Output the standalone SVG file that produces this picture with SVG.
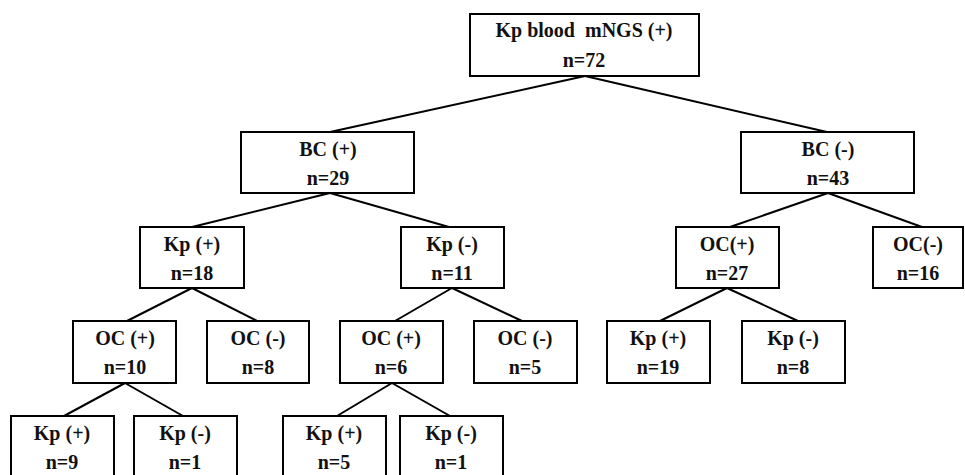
<svg xmlns="http://www.w3.org/2000/svg" width="965" height="475" viewBox="0 0 965 475">
<style>
rect{fill:#fff;stroke:#000;stroke-width:2}
line{stroke:#000;stroke-width:2}
text{font-family:'Liberation Serif','Times New Roman',serif;font-weight:bold;font-size:20px;text-anchor:middle;fill:#111;white-space:pre}
</style>
<rect width="965" height="475" style="fill:#fff;stroke:none"/>
<g id="connectors">
<line x1="585" y1="76" x2="330" y2="132"/>
<line x1="585" y1="76" x2="827" y2="132"/>
<line x1="330" y1="193" x2="192" y2="227"/>
<line x1="330" y1="193" x2="449" y2="227"/>
<line x1="828" y1="193" x2="730" y2="227"/>
<line x1="828" y1="193" x2="922" y2="227"/>
<line x1="192" y1="288" x2="127" y2="321"/>
<line x1="192" y1="288" x2="257" y2="321"/>
<line x1="452" y1="288" x2="395" y2="321"/>
<line x1="452" y1="288" x2="522" y2="321"/>
<line x1="727" y1="288" x2="660" y2="321"/>
<line x1="727" y1="288" x2="798" y2="321"/>
<line x1="125" y1="383" x2="64" y2="416"/>
<line x1="125" y1="383" x2="183" y2="416"/>
<line x1="392" y1="383" x2="337" y2="416"/>
<line x1="392" y1="383" x2="450" y2="416"/>
</g>
<g id="root"><rect x="470" y="14" width="229" height="62"/><text x="584" y="37">Kp blood  mNGS (+)</text><text x="584" y="67">n=72</text></g>
<g id="bc_pos"><rect x="241" y="132" width="173" height="61"/><text x="328" y="156">BC (+)</text><text x="328" y="185">n=29</text></g>
<g id="bc_neg"><rect x="741" y="132" width="173" height="61"/><text x="828" y="156">BC (-)</text><text x="828" y="185">n=43</text></g>
<g id="kp_pos_1"><rect x="140" y="227" width="104" height="61"/><text x="192" y="251">Kp (+)</text><text x="192" y="280">n=18</text></g>
<g id="kp_neg_1"><rect x="401" y="227" width="103" height="61"/><text x="452" y="251">Kp (-)</text><text x="452" y="280">n=11</text></g>
<g id="oc_pos_r"><rect x="676" y="227" width="103" height="61"/><text x="727" y="251">OC(+)</text><text x="727" y="280">n=27</text></g>
<g id="oc_neg_r"><rect x="873" y="227" width="90" height="61"/><text x="918" y="251">OC(-)</text><text x="918" y="280">n=16</text></g>
<g id="oc_pos_a"><rect x="73" y="321" width="103" height="62"/><text x="125" y="345">OC (+)</text><text x="125" y="374">n=10</text></g>
<g id="oc_neg_a"><rect x="207" y="321" width="102" height="62"/><text x="258" y="345">OC (-)</text><text x="258" y="374">n=8</text></g>
<g id="oc_pos_b"><rect x="340" y="321" width="103" height="62"/><text x="391" y="345">OC (+)</text><text x="391" y="374">n=6</text></g>
<g id="oc_neg_b"><rect x="474" y="321" width="103" height="62"/><text x="525" y="345">OC (-)</text><text x="525" y="374">n=5</text></g>
<g id="kp_pos_r"><rect x="607" y="321" width="103" height="62"/><text x="658" y="345">Kp (+)</text><text x="658" y="374">n=19</text></g>
<g id="kp_neg_r"><rect x="742" y="321" width="103" height="62"/><text x="793" y="345">Kp (-)</text><text x="793" y="374">n=8</text></g>
<g id="kp_pos_a"><rect x="11" y="416" width="103" height="64"/><text x="62" y="440">Kp (+)</text><text x="62" y="469">n=9</text></g>
<g id="kp_neg_a"><rect x="134" y="416" width="103" height="64"/><text x="185" y="440">Kp (-)</text><text x="185" y="469">n=1</text></g>
<g id="kp_pos_b"><rect x="283" y="416" width="103" height="64"/><text x="334" y="440">Kp (+)</text><text x="334" y="469">n=5</text></g>
<g id="kp_neg_b"><rect x="400" y="416" width="103" height="64"/><text x="451" y="440">Kp (-)</text><text x="451" y="469">n=1</text></g>
</svg>
